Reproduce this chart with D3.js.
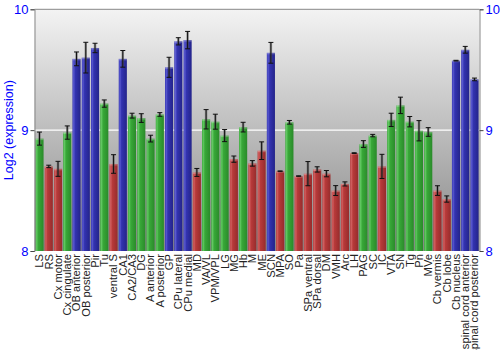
<!DOCTYPE html>
<html>
<head>
<meta charset="utf-8">
<script src="https://cdn.jsdelivr.net/npm/d3@7"></script>
<style>
  html, body { margin: 0; padding: 0; background: #fff; }
  svg { display: block; font-family: "Liberation Sans", Arial, sans-serif; }
</style>
</head>
<body>
<svg id="chart" width="500" height="350"></svg>
<script>
// Brain regions, mean log2 expression, standard error and colour group
const regions = ["LS","RS","Cx motor","Cx cingulate","OB anterior","OB posterior","Pir","Tu",
  "ventral S","CA1","CA2/CA3","DG","A anterior","A posterior","GP","CPu lateral","CPu medial",
  "MD","VA/VL","VPM/VPL","LG","MG","Hb","M","ME","SCN","MPA","SO","Pa","SPa ventral",
  "SPa dorsal","DM","VMH","Arc","LH","PAG","SC","IC","VTA","SN","Tg","Pn","MVe",
  "Cb vermis","Cb lobe","Cb nucleus","spinal cord anterior","spinal cord posterior"];

const expression = [8.93,8.70,8.68,8.98,9.59,9.60,9.68,9.22,
  8.72,9.59,9.12,9.10,8.93,9.13,9.52,9.735,9.745,
  8.65,9.09,9.07,8.955,8.76,9.025,8.725,8.83,9.64,8.66,9.065,8.62,8.64,
  8.675,8.64,8.50,8.555,8.81,8.885,8.955,8.70,9.085,9.205,9.07,8.995,8.985,
  8.50,8.43,9.575,9.665,9.42];

const stdErr = [0.054,0.010,0.062,0.055,0.057,0.127,0.039,0.030,
  0.077,0.069,0.020,0.036,0.028,0.015,0.083,0.030,0.072,
  0.033,0.080,0.062,0.050,0.026,0.040,0.023,0.073,0.086,0.003,0.015,0.002,0.100,
  0.022,0.026,0.041,0.017,0.003,0.028,0.010,0.100,0.055,0.068,0.043,0.084,0.036,
  0.040,0.026,0.003,0.028,0.011];

const groups = ["g","r","r","g","b","b","b","g",
  "r","b","g","g","g","g","b","b","b",
  "r","g","g","g","r","g","r","r","b","r","g","r","r",
  "r","r","r","r","r","g","g","r","g","g","g","g","g",
  "r","r","b","b","b"];

const yTicks = [8, 9, 10];

const palette = {
  g: ["#62c862", "#38a838", "#2a8a2a"],
  r: ["#d06060", "#b83a3a", "#962c2c"],
  b: ["#5a5ad0", "#3333b0", "#24248a"]
};

const svg = d3.select("#chart");
const plotLeft = 34.5, plotRight = 479.5, plotTop = 9.3, plotBottom = 251;

const x = d3.scaleBand().domain(regions).range([plotLeft, plotRight]).paddingInner(0.12).paddingOuter(0.1);
const y = d3.scaleLinear().domain([8, 10]).range([plotBottom, plotTop]);

const defs = svg.append("defs");
const bg = defs.append("linearGradient").attr("id", "bg").attr("x1", 0).attr("y1", 0).attr("x2", 0).attr("y2", 1);
bg.append("stop").attr("offset", "0%").attr("stop-color", "#f3f3f3");
bg.append("stop").attr("offset", "100%").attr("stop-color", "#878787");

Object.entries(palette).forEach(([k, c]) => {
  const g = defs.append("linearGradient").attr("id", "bar-" + k)
    .attr("x1", 0).attr("y1", 0).attr("x2", 1).attr("y2", 0);
  g.append("stop").attr("offset", "0%").attr("stop-color", c[1]);
  g.append("stop").attr("offset", "15%").attr("stop-color", c[0]);
  g.append("stop").attr("offset", "35%").attr("stop-color", c[1]);
  g.append("stop").attr("offset", "100%").attr("stop-color", c[2]);
});

// plot background
svg.append("rect").attr("x", plotLeft).attr("y", plotTop)
  .attr("width", plotRight - plotLeft).attr("height", plotBottom - plotTop)
  .attr("fill", "url(#bg)");

// reference line at 9
svg.append("line").attr("x1", plotLeft).attr("x2", plotRight).attr("y1", y(9)).attr("y2", y(9))
  .attr("stroke", "#fff").attr("stroke-width", 1.2);

// bars
const bars = svg.append("g");
regions.forEach((r, i) => {
  const bx = x(r), bw = x.bandwidth();
  bars.append("rect").attr("x", bx).attr("y", y(expression[i])).attr("width", bw)
    .attr("height", y(8) - y(expression[i])).attr("fill", "url(#bar-" + groups[i] + ")");
  bars.append("rect").attr("x", bx).attr("y", y(expression[i])).attr("width", bw).attr("height", 1.5)
    .attr("fill", "#fff").attr("opacity", 0.25);
});

// error bars
const errs = svg.append("g");
regions.forEach((r, i) => {
  const cx = x(r) + x.bandwidth() / 2;
  const lo = y(expression[i] - stdErr[i]), hi = y(expression[i] + stdErr[i]);
  errs.append("line").attr("x1", cx).attr("x2", cx).attr("y1", lo).attr("y2", hi)
    .attr("stroke", "#555").attr("stroke-opacity", 0.55).attr("stroke-width", 2.5);
  errs.append("line").attr("x1", cx).attr("x2", cx).attr("y1", lo).attr("y2", hi)
    .attr("stroke", "#111").attr("stroke-width", 1);
  [lo, hi].forEach(v => errs.append("line").attr("x1", cx - 2.5).attr("x2", cx + 2.5)
    .attr("y1", v).attr("y2", v).attr("stroke", "#111").attr("stroke-width", 1));
});

// frame: top border and side axes
svg.append("line").attr("x1", plotLeft).attr("x2", plotRight).attr("y1", plotTop).attr("y2", plotTop)
  .attr("stroke", "#888").attr("stroke-width", 1);

const yLeft = svg.append("g").attr("transform", `translate(${plotLeft},0)`)
  .call(d3.axisLeft(y).tickValues(yTicks).tickFormat(d3.format("d")).tickSize(4).tickPadding(2));
const yRight = svg.append("g").attr("transform", `translate(${plotRight},0)`)
  .call(d3.axisRight(y).tickValues(yTicks).tickFormat(d3.format("d")).tickSize(4).tickPadding(2));
[yLeft, yRight].forEach(a => {
  a.select(".domain").attr("stroke", "#888");
  a.selectAll(".tick line").attr("stroke", "#444");
  a.selectAll(".tick text").attr("fill", "#0000ff").attr("font-size", 13)
    .attr("font-family", "'Liberation Sans', Arial, sans-serif");
});

// category labels
const xAxis = svg.append("g").attr("transform", `translate(0,${plotBottom})`)
  .call(d3.axisBottom(x).tickSize(0).tickPadding(0));
xAxis.select(".domain").remove();
xAxis.selectAll(".tick text")
  .attr("transform", "rotate(-90)")
  .attr("text-anchor", "end")
  .attr("dy", "0.35em")
  .attr("x", -3)
  .attr("y", 0)
  .attr("fill", "#222")
  .attr("font-size", 11.2)
  .attr("font-family", "'Liberation Sans', Arial, sans-serif");

// y title
svg.append("text")
  .attr("transform", `translate(13,${(plotTop + plotBottom) / 2}) rotate(-90)`)
  .attr("text-anchor", "middle")
  .attr("fill", "#0000ff")
  .attr("font-size", 12.5)
  .text("Log2 (expression)");
</script>
</body>
</html>
